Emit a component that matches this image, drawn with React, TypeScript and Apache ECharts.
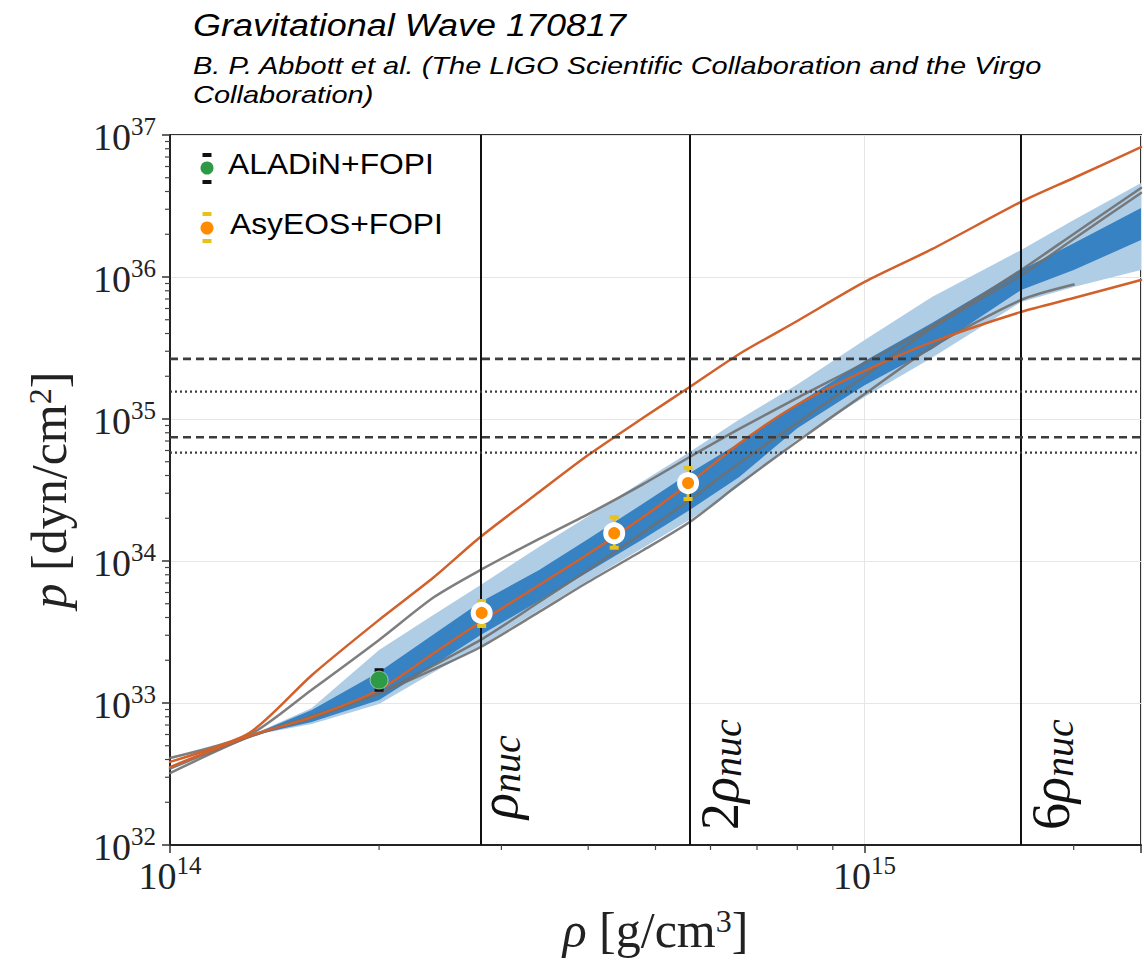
import React, { useEffect, useRef } from 'react';
import * as echarts from 'echarts';

// ---------- axis ranges ----------
const X_MIN = 1e14;
const X_MAX = 2.5e15;
const Y_MIN = 1e32;
const Y_MAX = 1e37;

// ---------- curves (density g/cm^3 -> pressure dyn/cm^2) ----------
const RHO = [1.0e14, 1.3e14, 1.6e14, 2.0e14, 2.4e14, 2.8e14, 3.4e14, 4.0e14, 4.8e14, 5.6e14, 6.6e14, 8.0e14, 1.0e15, 1.25e15, 1.68e15, 2.0e15, 2.5e15];
const P_ORANGE_STIFF = [3.85e32, 6.15e32, 1.57e33, 3.85e33, 7.71e33, 1.48e34, 3.06e34, 5.57e34, 1.02e35, 1.68e35, 2.87e35, 4.90e35, 9.23e35, 1.57e36, 3.38e36, 4.98e36, 8.22e36];
const P_ORANGE_SOFT = [3.54e32, 5.86e32, 7.96e32, 1.24e33, 2.25e33, 3.72e33, 6.78e33, 1.12e34, 2.04e34, 3.54e34, 6.72e34, 1.26e35, 2.18e35, 3.48e35, 5.68e35, 7.11e35, 9.53e35];
const P_GRAY_UPPER = [4.10e32, 5.96e32, 1.24e33, 2.78e33, 5.57e33, 8.65e33, 1.43e34, 2.14e34, 3.48e34, 5.40e34, 8.51e34, 1.41e35, 2.48e35, 4.52e35, 1.12e36, 2.01e36, 4.24e36];
const P_GRAY_MID = [3.45e32, 5.77e32, 8.09e32, 1.17e33, 1.85e33, 2.78e33, 5.14e33, 8.65e33, 1.59e34, 2.69e34, 4.90e34, 9.38e34, 2.01e35, 4.38e35, 1.03e36, 1.85e36, 3.91e36];
const RHO_GRAY_LOWER = [1.0e14, 1.3e14, 1.6e14, 2.0e14, 2.4e14, 2.8e14, 3.4e14, 4.0e14, 4.8e14, 5.6e14, 6.6e14, 8.0e14, 1.0e15, 1.25e15, 1.68e15, 2.0e15];
const P_GRAY_LOWER = [3.21e32, 5.77e32, 7.83e32, 1.17e33, 1.73e33, 2.48e33, 4.38e33, 7.11e33, 1.19e34, 1.88e34, 3.48e34, 6.95e34, 1.50e35, 3.21e35, 6.89e35, 8.85e35];

// ---------- credible bands ----------
const RHO_BAND = [1.3e14, 1.6e14, 2.0e14, 2.4e14, 2.8e14, 3.4e14, 4.0e14, 4.8e14, 5.6e14, 6.6e14, 8.0e14, 1.0e15, 1.25e15, 1.68e15, 2.0e15, 2.5e15];
const BAND90_HIGH = [5.86e32, 9.23e32, 2.36e33, 4.20e33, 6.78e33, 1.26e34, 2.07e34, 3.66e34, 5.86e34, 9.91e34, 1.75e35, 3.60e35, 7.23e35, 1.55e36, 2.52e36, 4.59e36];
const BAND90_LOW = [5.86e32, 7.11e32, 9.84e32, 1.65e33, 2.52e33, 4.52e33, 7.29e33, 1.24e34, 1.95e34, 3.37e34, 7.20e34, 1.43e35, 2.70e35, 6.67e35, 8.51e35, 1.12e36];
const BAND50_HIGH = [5.86e32, 8.93e32, 1.65e33, 3.06e33, 5.14e33, 8.65e33, 1.43e34, 2.54e34, 4.17e34, 6.78e34, 1.28e35, 2.56e35, 4.75e35, 1.12e36, 1.73e36, 3.06e36];
const BAND50_LOW = [5.86e32, 7.35e32, 1.05e33, 1.85e33, 3.01e33, 5.22e33, 8.38e33, 1.43e34, 2.29e34, 3.91e34, 8.60e34, 1.73e35, 3.10e35, 8.09e35, 1.12e36, 1.82e36];

// ---------- reference lines ----------
const RHO_REF_LINES = [2.8e14, 5.6e14, 1.68e15];
const RHO_REF_LABELS = ['{r|ρ}{s|nuc}', '{n|2}{r|ρ}{s|nuc}', '{n|6}{r|ρ}{s|nuc}'];
const P_DASHED = [2.65e35, 7.43e34];
const P_DOTTED = [1.56e35, 5.79e34];

// ---------- measurements ----------
const ALADIN_RHO = [2.0e14];
const ALADIN_P = [1.45e33];
const ALADIN_LO = [1.22e33];
const ALADIN_HI = [1.73e33];
const ASYEOS_RHO = [2.81e14, 4.36e14, 5.57e14];
const ASYEOS_P = [4.31e33, 1.57e34, 3.54e34];
const ASYEOS_LO = [3.43e33, 1.22e34, 2.69e34];
const ASYEOS_HI = [5.31e33, 2.07e34, 4.59e34];

const LEGEND_LABELS = ['ALADiN+FOPI', 'AsyEOS+FOPI'];
const MINOR_MULT = [2, 3, 4, 5, 6, 7, 8, 9];
const Y_DECADES = [32, 33, 34, 35, 36];
const X_DECADES = [14, 15];

const TITLE = 'Gravitational Wave 170817';
const SUBTITLE_LINES = ['B. P. Abbott et al. (The LIGO Scientific Collaboration and the Virgo', 'Collaboration)'];

const SERIF = '"Liberation Serif", "Times New Roman", serif';
const SANS = '"Liberation Sans", Arial, sans-serif';

const ORANGE_LINE = '#d1602b';
const GRAY_LINE = 'rgba(112,112,112,0.9)';
const LIGHT_BLUE = '#b0cde6';
const DARK_BLUE = '#3682c2';
const YELLOW = '#e8c21c';

const zip = (xs: number[], ys: number[]) => xs.map((x, i) => [x, ys[i]]);

const pow10Label = (v: number) => {
  const e = Math.log10(v);
  const r = Math.round(e);
  if (Math.abs(e - r) > 1e-3) return '';
  return `{b|10}{e|${r}}`;
};

const tickRich = {
  b: { fontFamily: SERIF, fontSize: 38, color: '#222', lineHeight: 42, verticalAlign: 'bottom' },
  e: { fontFamily: SERIF, fontSize: 25, color: '#222', lineHeight: 22, verticalAlign: 'top' },
};

function curve(name: string, xs: number[], ys: number[], color: string, z: number, width = 2.5) {
  return {
    name,
    type: 'line',
    data: zip(xs, ys),
    showSymbol: false,
    symbol: 'none',
    smooth: 0.25,
    silent: true,
    z,
    lineStyle: { color, width, join: 'round', cap: 'round' },
    emphasis: { disabled: true },
  };
}

function band(lo: number[], hi: number[], color: string, z: number) {
  return {
    type: 'custom',
    silent: true,
    z,
    data: RHO_BAND.map((r, i) => [r, lo[i], hi[i]]),
    encode: { x: 0, y: [1, 2] },
    renderItem: (params: any, api: any) => {
      if (params.dataIndex !== 0) return null;
      const top = RHO_BAND.map((r, i) => api.coord([r, hi[i]]));
      const bot = RHO_BAND.map((r, i) => api.coord([r, lo[i]])).reverse();
      return {
        type: 'polygon',
        shape: { points: top.concat(bot) },
        style: { fill: color, stroke: null },
      };
    },
  };
}

function errorBars(xs: number[], lo: number[], hi: number[], color: string, z: number) {
  return {
    type: 'custom',
    silent: true,
    z,
    clip: false,
    data: xs.map((x, i) => [x, lo[i], hi[i]]),
    encode: { x: 0, y: [1, 2] },
    renderItem: (params: any, api: any) => {
      const x = api.value(0);
      const a = api.coord([x, api.value(1)]);
      const b = api.coord([x, api.value(2)]);
      return {
        type: 'group',
        children: [
          { type: 'line', shape: { x1: a[0], y1: a[1], x2: b[0], y2: b[1] }, style: { stroke: color, lineWidth: 3 } },
          { type: 'rect', shape: { x: b[0] - 4.5, y: b[1] - 1, width: 9, height: 4 }, style: { fill: color } },
          { type: 'rect', shape: { x: a[0] - 4.5, y: a[1] - 3, width: 9, height: 4 }, style: { fill: color } },
        ],
      };
    },
  };
}

function hLine(p: number, dash: number[], width: number) {
  return {
    type: 'line',
    data: [[X_MIN, p], [X_MAX, p]],
    showSymbol: false,
    symbol: 'none',
    silent: true,
    z: 6,
    lineStyle: { color: '#3c3c3c', width, type: dash },
    emphasis: { disabled: true },
  };
}

export default function App() {
  const ref = useRef<HTMLDivElement>(null);

  useEffect(() => {
    if (!ref.current) return;
    const chart = echarts.init(ref.current, null, { renderer: 'svg' });

    const minorTicks: number[][] = [];
    Y_DECADES.forEach((n) => MINOR_MULT.forEach((k) => minorTicks.push([X_MIN, k * Math.pow(10, n), 0])));
    X_DECADES.forEach((n) =>
      MINOR_MULT.forEach((k) => {
        const v = k * Math.pow(10, n);
        if (v < X_MAX) minorTicks.push([v, Y_MIN, 1]);
      })
    );

    const refRich = {
      n: { fontFamily: SERIF, fontSize: 54, color: '#111', lineHeight: 56 },
      r: { fontFamily: SERIF, fontSize: 54, fontStyle: 'italic', color: '#111', lineHeight: 56 },
      s: { fontFamily: SERIF, fontSize: 40, fontStyle: 'italic', color: '#111', lineHeight: 44, verticalAlign: 'bottom' },
    };

    const nameRich = {
      i: { fontFamily: SERIF, fontSize: 50, fontStyle: 'italic', color: '#222' },
      s: { fontFamily: SERIF, fontSize: 32, color: '#222', verticalAlign: 'top' },
    };

    const option: any = {
      animation: false,
      backgroundColor: '#ffffff',
      grid: { left: 170, right: 2, top: 135, bottom: 125, show: true, borderColor: '#333', borderWidth: 2, backgroundColor: 'transparent' },
      xAxis: {
        type: 'log',
        logBase: 10,
        min: X_MIN,
        max: X_MAX,
        name: '{i|ρ} [g/cm{s|3}]',
        nameLocation: 'middle',
        nameGap: 60,
        nameTextStyle: { fontFamily: SERIF, fontSize: 50, color: '#222', rich: nameRich },
        axisLine: { show: true, lineStyle: { color: '#222', width: 2 } },
        axisTick: { show: true, length: 8, lineStyle: { color: '#333', width: 1.5 } },
        axisLabel: { formatter: pow10Label, rich: tickRich, margin: 8 },
        splitLine: { show: true, lineStyle: { color: '#e6e6e6', width: 1 } },
      },
      yAxis: {
        type: 'log',
        logBase: 10,
        min: Y_MIN,
        max: Y_MAX,
        name: '{i|p} [dyn/cm{s|2}]',
        nameLocation: 'middle',
        nameGap: 96,
        nameTextStyle: { fontFamily: SERIF, fontSize: 50, color: '#222', rich: nameRich },
        axisLine: { show: true, lineStyle: { color: '#222', width: 2 } },
        axisTick: { show: true, length: 8, lineStyle: { color: '#333', width: 1.5 } },
        axisLabel: { formatter: pow10Label, rich: tickRich, margin: 14 },
        splitLine: { show: true, lineStyle: { color: '#e6e6e6', width: 1 } },
      },
      graphic: [
        // title block
        { type: 'text', x: 193, y: 25, scaleX: 1.16, style: { text: TITLE, fontFamily: SANS, fontStyle: 'italic', fontSize: 31, fill: '#000', verticalAlign: 'middle' }, z: 10 },
        { type: 'text', x: 193, y: 66, scaleX: 1.26, style: { text: SUBTITLE_LINES[0], fontFamily: SANS, fontStyle: 'italic', fontSize: 23, fill: '#000', verticalAlign: 'middle' }, z: 10 },
        { type: 'text', x: 193, y: 95, scaleX: 1.26, style: { text: SUBTITLE_LINES[1], fontFamily: SANS, fontStyle: 'italic', fontSize: 23, fill: '#000', verticalAlign: 'middle' }, z: 10 },
        // legend: ALADiN+FOPI
        { type: 'rect', shape: { x: 202.5, y: 153, width: 9, height: 4 }, style: { fill: '#111' }, z: 10 },
        { type: 'rect', shape: { x: 202.5, y: 180, width: 9, height: 4 }, style: { fill: '#111' }, z: 10 },
        { type: 'circle', shape: { cx: 207, cy: 168, r: 9 }, style: { fill: 'rgba(255,255,255,0.85)' }, z: 10 },
        { type: 'circle', shape: { cx: 207, cy: 168, r: 6.5 }, style: { fill: '#2f9a45' }, z: 11 },
        { type: 'text', x: 228, y: 164, scaleX: 1.06, style: { text: LEGEND_LABELS[0], fontFamily: SANS, fontSize: 30, fill: '#000', verticalAlign: 'middle' }, z: 10 },
        // legend: AsyEOS+FOPI
        { type: 'rect', shape: { x: 202.5, y: 212, width: 9, height: 4 }, style: { fill: YELLOW }, z: 10 },
        { type: 'rect', shape: { x: 202.5, y: 239, width: 9, height: 4 }, style: { fill: YELLOW }, z: 10 },
        { type: 'circle', shape: { cx: 207, cy: 228, r: 9 }, style: { fill: 'rgba(255,255,255,0.85)' }, z: 10 },
        { type: 'circle', shape: { cx: 207, cy: 228, r: 6.5 }, style: { fill: '#ff8c00' }, z: 11 },
        { type: 'text', x: 230, y: 224, scaleX: 1.06, style: { text: LEGEND_LABELS[1], fontFamily: SANS, fontSize: 30, fill: '#000', verticalAlign: 'middle' }, z: 10 },
      ],
      series: [
        band(BAND90_LOW, BAND90_HIGH, LIGHT_BLUE, 1),
        band(BAND50_LOW, BAND50_HIGH, DARK_BLUE, 2),
        curve('gray upper', RHO, P_GRAY_UPPER, GRAY_LINE, 3),
        curve('gray mid', RHO, P_GRAY_MID, GRAY_LINE, 3),
        curve('gray lower', RHO_GRAY_LOWER, P_GRAY_LOWER, GRAY_LINE, 3),
        curve('orange stiff', RHO, P_ORANGE_STIFF, ORANGE_LINE, 4),
        curve('orange soft', RHO, P_ORANGE_SOFT, ORANGE_LINE, 4),
        hLine(P_DASHED[0], [8, 5], 2.6),
        hLine(P_DASHED[1], [8, 5], 2.6),
        hLine(P_DOTTED[0], [2, 3], 2.2),
        hLine(P_DOTTED[1], [2, 3], 2.2),
        {
          type: 'line',
          data: [[X_MIN, Y_MIN]],
          showSymbol: false,
          symbol: 'none',
          silent: true,
          z: 7,
          markLine: {
            silent: true,
            symbol: ['none', 'none'],
            lineStyle: { color: '#111', width: 2, type: 'solid' },
            emphasis: { disabled: true },
            data: RHO_REF_LINES.map((x, i) => ({
              xAxis: x,
              label: {
                show: true,
                position: 'insideStartBottom',
                distance: i === 0 ? [26, -10] : [15, 2],
                formatter: RHO_REF_LABELS[i],
                rich: refRich,
              },
            })),
          },
        },
        errorBars(ALADIN_RHO, ALADIN_LO, ALADIN_HI, '#111', 8),
        errorBars(ASYEOS_RHO, ASYEOS_LO, ASYEOS_HI, YELLOW, 8),
        {
          name: LEGEND_LABELS[0],
          type: 'scatter',
          data: zip(ALADIN_RHO, ALADIN_P),
          symbol: 'circle',
          symbolSize: 18,
          silent: true,
          z: 9,
          itemStyle: { color: '#2f9a45', opacity: 1, borderColor: 'rgba(255,255,255,0.5)', borderWidth: 1 },
        },
        {
          name: LEGEND_LABELS[1],
          type: 'scatter',
          data: zip(ASYEOS_RHO, ASYEOS_P),
          symbol: 'circle',
          symbolSize: 17,
          silent: true,
          z: 9,
          itemStyle: { color: '#ff8c00', opacity: 1, borderColor: '#ffffff', borderWidth: 5 },
        },
        {
          type: 'custom',
          silent: true,
          clip: false,
          z: 5,
          data: minorTicks,
          encode: { x: 0, y: 1 },
          renderItem: (params: any, api: any) => {
            const p = api.coord([api.value(0), api.value(1)]);
            const isX = api.value(2) === 1;
            return {
              type: 'line',
              shape: isX
                ? { x1: p[0], y1: p[1], x2: p[0], y2: p[1] + 5 }
                : { x1: p[0] - 5, y1: p[1], x2: p[0], y2: p[1] },
              style: { stroke: '#444', lineWidth: 1.2 },
            };
          },
        },
      ],
    };

    chart.setOption(option);
    return () => chart.dispose();
  }, []);

  return (
    <div
      ref={ref}
      style={{ position: 'fixed', left: 0, top: 0, width: 1144, height: 970, background: '#fff' }}
    />
  );
}
